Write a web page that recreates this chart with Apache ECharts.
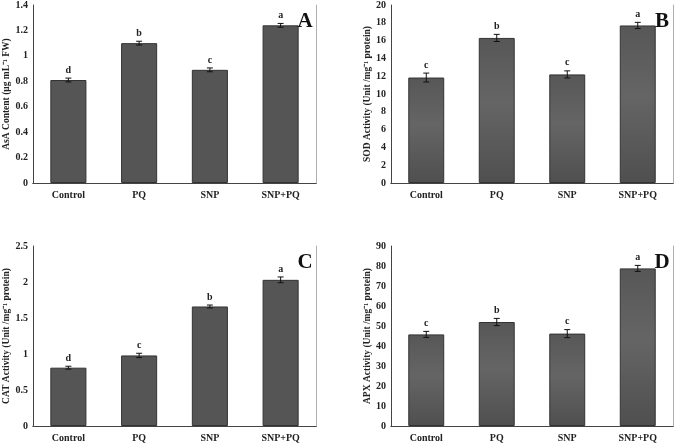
<!DOCTYPE html>
<html>
<head>
<meta charset="utf-8">
<script src="https://cdn.jsdelivr.net/npm/echarts@6/dist/echarts.min.js"></script>
<style>html,body{margin:0;padding:0;background:#fff}#c{width:676px;height:443px}</style>
</head>
<body>
<div id="c"></div>
<script>
const categories = ['Control', 'PQ', 'SNP', 'SNP+PQ'];

const asaValues = [0.81, 1.10, 0.89, 1.24];
const asaErrors = [0.015, 0.015, 0.015, 0.015];
const asaLetters = ['d', 'b', 'c', 'a'];

const sodValues = [11.85, 16.3, 12.2, 17.7];
const sodErrors = [0.5, 0.4, 0.4, 0.35];
const sodLetters = ['c', 'b', 'c', 'a'];

const catValues = [0.81, 0.98, 1.66, 2.03];
const catErrors = [0.02, 0.03, 0.02, 0.04];
const catLetters = ['d', 'c', 'b', 'a'];

const apxValues = [45.8, 52, 46.2, 78.8];
const apxErrors = [1.5, 1.8, 2.0, 1.5];
const apxLetters = ['c', 'b', 'c', 'a'];

const panels = [
  {tag:'A', name:'AsA Content (μg mL⁻¹ FW)', values:asaValues, errors:asaErrors, letters:asaLetters, max:1.4, interval:0.2, grad:false,
   grid:{left:33, top:5, width:283, height:178}, nameGap:19},
  {tag:'B', name:'SOD Activity (Unit /mg⁻¹ protein)', values:sodValues, errors:sodErrors, letters:sodLetters, max:20, interval:2, grad:true,
   grid:{left:391, top:5, width:282, height:178}, nameGap:15},
  {tag:'C', name:'CAT Activity (Unit /mg⁻¹ protein)', values:catValues, errors:catErrors, letters:catLetters, max:2.5, interval:0.5, grad:false,
   grid:{left:33, top:246, width:283, height:180}, nameGap:19},
  {tag:'D', name:'APX Activity (Unit /mg⁻¹ protein)', values:apxValues, errors:apxErrors, letters:apxLetters, max:90, interval:10, grad:true,
   grid:{left:391, top:246, width:282, height:180}, nameGap:15}
];

const FONT = 'Liberation Serif';
const grids = [], xAxes = [], yAxes = [], series = [], titles = [];

panels.forEach((p, i) => {
  grids.push(Object.assign({containLabel:false}, p.grid));
  xAxes.push({
    type:'category', data:categories, gridIndex:i,
    axisLine:{lineStyle:{color:'#444', width:1}},
    axisTick:{show:false},
    axisLabel:{fontFamily:FONT, fontWeight:'bold', fontSize:10, color:'#222', margin:7}
  });
  xAxes.push({
    type:'category', data:categories, gridIndex:i, position:'top',
    axisLine:{show:true, lineStyle:{color:'#444', width:1}},
    axisTick:{show:false}, axisLabel:{show:false}
  });
  yAxes.push({
    type:'value', gridIndex:i, min:0, max:p.max, interval:p.interval,
    name:p.name, nameLocation:'middle', nameGap:p.nameGap, nameRotate:90,
    nameTextStyle:{fontFamily:FONT, fontWeight:'bold', fontSize:9.5, color:'#222'},
    splitLine:{show:false},
    axisLine:{show:true, lineStyle:{color:'#444', width:1}},
    axisTick:{show:false},
    axisLabel:{fontFamily:FONT, fontWeight:'bold', fontSize:10, color:'#222', margin:5}
  });
  yAxes.push({
    type:'value', gridIndex:i, min:0, max:p.max, interval:p.interval, position:'right',
    splitLine:{show:false},
    axisLine:{show:true, lineStyle:{color:'#b0b0b0', width:1}},
    axisTick:{show:false}, axisLabel:{show:false}
  });
  const color = p.grad ? new echarts.graphic.LinearGradient(0,0,0,1,[
      {offset:0, color:'#575757'}, {offset:0.45, color:'#656565'}, {offset:1, color:'#4f4f4f'}])
    : '#555555';
  series.push({
    type:'bar', xAxisIndex:2*i, yAxisIndex:2*i, data:p.values, barWidth:'51%',
    itemStyle:{color:color, borderColor:'#333', borderWidth:1}, silent:true
  });
  const letters = p.letters;
  series.push({
    type:'custom', xAxisIndex:2*i, yAxisIndex:2*i,
    data:p.values.map((v, k) => [k, v, p.errors[k]]),
    encode:{x:0, y:1}, silent:true, z:5,
    renderItem:(params, api) => {
      const c = api.value(0), v = api.value(1), e = api.value(2);
      const hi = api.coord([c, v + e]);
      const lo = api.coord([c, v - e]);
      const x = hi[0], w = 3;
      const st = {stroke:'#111', lineWidth:1};
      return {type:'group', children:[
        {type:'line', shape:{x1:x, y1:hi[1], x2:x, y2:lo[1]}, style:st},
        {type:'line', shape:{x1:x-w, y1:hi[1], x2:x+w, y2:hi[1]}, style:st},
        {type:'line', shape:{x1:x-w, y1:lo[1], x2:x+w, y2:lo[1]}, style:st},
        {type:'text', style:{text:letters[params.dataIndex], x:x, y:hi[1]-3, align:'center', verticalAlign:'bottom',
          font:'bold 10px "' + FONT + '"', fill:'#222'}}
      ]};
    }
  });
  titles.push({
    text:p.tag, left:p.grid.left + p.grid.width - 16, top:p.grid.top + 1,
    textAlign:'center',
    textStyle:{fontFamily:FONT, fontWeight:'bold', fontSize:21, color:'#111'}
  });
});

const chart = echarts.init(document.getElementById('c'), null, {renderer:'canvas'});
chart.setOption({
  animation:false, backgroundColor:'#fff',
  title:titles, grid:grids, xAxis:xAxes, yAxis:yAxes, series:series
});
</script>
</body>
</html>
